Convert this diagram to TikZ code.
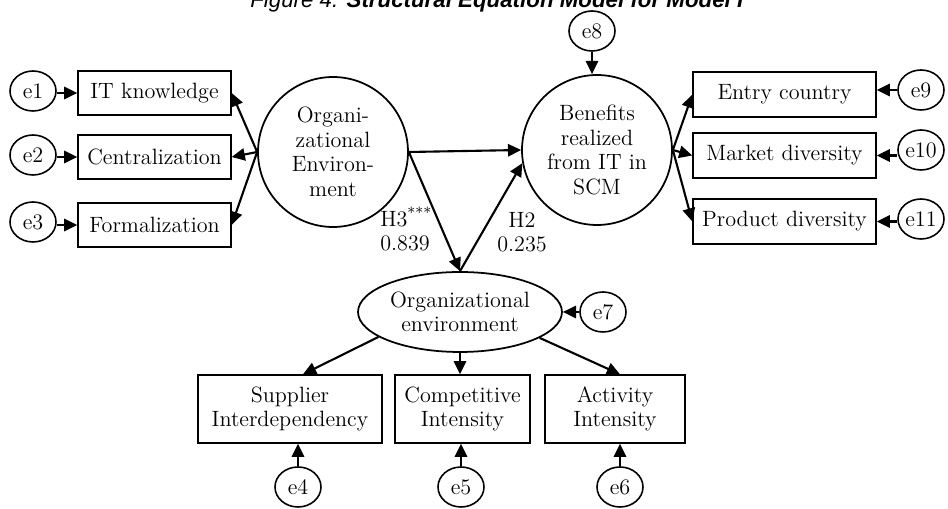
\documentclass[tikz,border=0pt]{standalone}
\usepackage{fontspec}
\newfontfamily\titlefont{Liberation Sans}
\usetikzlibrary{shapes.geometric, arrows.meta, calc}

\begin{document}
\begin{tikzpicture}[x=0.02cm,y=-0.02cm,
  txt/.style={font=\fontsize{12.6}{14}\selectfont, align=center, inner sep=0pt},
  obs/.style={draw, rectangle, line width=0.8pt, txt},
  lat/.style={draw, circle, line width=1pt, txt, minimum size=3cm},
  err/.style={draw, ellipse, line width=0.9pt, txt, minimum width=0.92cm, minimum height=0.8cm},
  arr/.style={line width=1.2pt, -{Triangle[length=7.5pt,width=7pt]}}]
\useasboundingbox (0,0) rectangle (948,509);
% title, cut at the top edge
\node[font=\titlefont\fontsize{12.7}{14}\selectfont, anchor=base] (title) at (497,8)
  {\textit{Figure 4.} \textbf{\textit{Structural Equation Model for Model I}}};
% latent variables
\node[lat] (oe) at (333,152) {Organi-\\zational\\Environ-\\ment};
\node[lat] (ben) at (597,150) {Benefits\\realized\\from IT in\\SCM};
\node[draw, ellipse, line width=1pt, txt, minimum width=4.08cm, minimum height=1.6cm] (env) at (460,312) {Organizational\\environment};
% indicators
\node[obs, minimum width=3.06cm, minimum height=0.88cm] (it) at (154.5,93) {IT knowledge};
\node[obs, minimum width=3.06cm, minimum height=0.88cm] (cen) at (154.5,157) {Centralization};
\node[obs, minimum width=3.06cm, minimum height=0.88cm] (form) at (154.5,225) {Formalization};
\node[obs, minimum width=3.66cm, minimum height=0.9cm] (entry) at (784.5,94.5) {Entry country};
\node[obs, minimum width=3.66cm, minimum height=0.9cm] (market) at (784.5,155.5) {Market diversity};
\node[obs, minimum width=3.66cm, minimum height=0.9cm] (product) at (784.5,221.5) {Product diversity};
\node[obs, minimum width=3.68cm, minimum height=1.36cm] (sup) at (290,409) {Supplier\\Interdependency};
\node[obs, minimum width=2.7cm, minimum height=1.36cm] (comp) at (462.5,409) {Competitive\\Intensity};
\node[obs, minimum width=2.8cm, minimum height=1.36cm] (act) at (615,409) {Activity\\Intensity};
% error terms
\node[err] (e1) at (33,91) {e1};
\node[err] (e2) at (33,155) {e2};
\node[err] (e3) at (33,222) {e3};
\node[err] (e4) at (298,487) {e4};
\node[err] (e5) at (461,487) {e5};
\node[err] (e6) at (620,487) {e6};
\node[err] (e7) at (603,312) {e7};
\node[err] (e8) at (592,31) {e8};
\node[err] (e9) at (921,90) {e9};
\node[err] (e10) at (921,150) {e10};
\node[err] (e11) at (921,219) {e11};
% path labels
\node[txt, anchor=west, align=left] (h3lbl) at (380,229) {H3\textsuperscript{***}\\0.839};
\node[txt] (h2lbl) at (522,232) {H2\\0.235};
% error arrows
\draw[arr] (e1.east |- it.west) -- (it.west);
\draw[arr] (e2.east |- cen.west) -- (cen.west);
\draw[arr] (e3.east |- form.west) -- (form.west);
\draw[arr] (e4.north) -- (e4.north |- sup.south);
\draw[arr] (e5.north) -- (e5.north |- comp.south);
\draw[arr] (e6.north) -- (e6.north |- act.south);
\draw[arr] (e7.west) -- (env.east);
\draw[arr] (e8.south) -- (e8.south |- ben.north);
\draw[arr] (e9.west) -- (e9.west -| entry.east);
\draw[arr] (e10.west |- market.east) -- (market.east);
\draw[arr] (e11.west |- product.east) -- (product.east);
% loadings
\draw[arr] (oe.west) -- (it.east);
\draw[arr] (oe.west) -- (cen.east);
\draw[arr] (oe.west) -- (form.east);
\draw[arr] (ben.east) -- (entry.west);
\draw[arr] (ben.east) -- (market.west);
\draw[arr] (ben.east) -- (product.west);
\draw[arr] (env.197) -- ($(sup.north)+(13,0)$);
\draw[arr] (env.south) -- (env.south |- comp.north);
\draw[arr] (env.342) -- ($(act.north)+(5,0)$);
% structural paths
\draw[arr] (oe.east) -- (ben.west);
\draw[arr] (oe.east) -- (env.north);
\draw[arr] (env.north) -- (ben.190);
\end{tikzpicture}
\end{document}
